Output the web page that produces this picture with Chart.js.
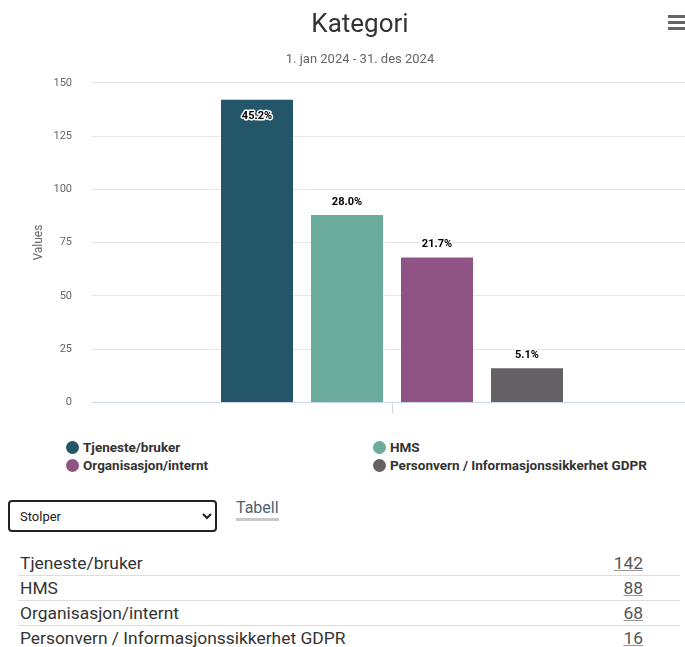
<!DOCTYPE html>
<html>
<head>
<meta charset="utf-8">
<script src="https://cdn.jsdelivr.net/npm/chart.js@4.4.1/dist/chart.umd.min.js"></script>
<style>
  html, body { margin: 0; padding: 0; background: #fff; overflow: hidden; width: 685px; height: 647px; }
  body { position: relative; font-family: 'Roboto', sans-serif; }
  #wrap { position: absolute; left: 0; top: 0; width: 692px; height: 429px; }
  #menu { position: absolute; left: 668px; top: 15px; width: 18px; }
  #menu div { height: 3px; background: #666; margin-bottom: 3px; }
  #legend { position: absolute; left: 66px; top: 438px; display: grid; grid-template-columns: 307px 307px; grid-auto-rows: 18px; }
  .item { display: flex; align-items: center; font-size: 13.5px; color: #333; font-weight: bold; }
  .dot { width: 13px; height: 13px; border-radius: 50%; margin-right: 4px; }
  #type { position: absolute; left: 8px; top: 500px; width: 209px; height: 32px; border: 2px solid #222; border-radius: 4px; font-size: 13px; font-family: 'Roboto', sans-serif; padding-left: 6px; background: #fff; color: #222; }
  #tabell { position: absolute; left: 236px; top: 498px; font-size: 16px; color: #4a6274; text-decoration: none; border-bottom: 3px solid #c8c8c8; line-height: 20px; }
  #tbl { position: absolute; left: 18px; top: 551px; width: 662px; border-collapse: collapse; font-size: 17.4px; color: #333; }
  #tbl td { height: 24px; padding: 0 0 0 2px; border-bottom: 1px solid #ddd; }
  #tbl tr:last-child td { border-bottom: none; }
  #tbl td.v { text-align: right; padding-right: 37px; }
  #tbl td.v a { color: #555; text-decoration: underline; text-decoration-color: #999; }
</style>
</head>
<body>
<div id="wrap"><canvas id="myChart"></canvas></div>
<div id="menu"><div></div><div></div><div></div></div>
<div id="legend"></div>
<select id="type"><option>Stolper</option><option>Kake</option></select>
<a id="tabell" href="#">Tabell</a>
<table id="tbl"></table>
<script>
const categories = ['Tjeneste/bruker', 'HMS', 'Organisasjon/internt', 'Personvern / Informasjonssikkerhet GDPR'];
const values = [142, 88, 68, 16];
const colors = ['#24566a', '#6aab9c', '#8f5483', '#646064'];
const yTicks = [0, 25, 50, 75, 100, 125, 150];

const total = values.reduce((a, b) => a + b, 0);
const fontFam = "'Roboto', sans-serif";

// etiketter med prosent over stolpene
const pctLabels = {
    id: 'pctLabels',
    afterDatasetsDraw(chart) {
        const ctx = chart.ctx;
        const area = chart.chartArea;
        ctx.save();
        ctx.font = 'bold 11px ' + fontFam;
        ctx.textAlign = 'center';
        ctx.textBaseline = 'middle';
        ctx.lineJoin = 'round';
        chart.data.datasets.forEach((ds, i) => {
            const el = chart.getDatasetMeta(i).data[0];
            const txt = (ds.data[0] / total * 100).toFixed(1) + '%';
            let y = el.y - 13;
            if (y - 8 < area.top) y = el.y + 16;
            ctx.lineWidth = 3;
            ctx.strokeStyle = '#fff';
            ctx.strokeText(txt, el.x, y);
            ctx.fillStyle = '#000';
            ctx.fillText(txt, el.x, y);
        });
        ctx.restore();
    }
};

const chart = new Chart(document.getElementById('myChart'), {
    type: 'bar',
    data: {
        labels: [''],
        datasets: categories.map((c, i) => ({
            label: c,
            data: [values[i]],
            backgroundColor: colors[i],
            borderWidth: 0
        }))
    },
    options: {
        responsive: true,
        maintainAspectRatio: false,
        animation: false,
        categoryPercentage: 0.6,
        barPercentage: 0.8,
        layout: { padding: { top: 8, left: 28, right: 0, bottom: 0 } },
        plugins: {
            legend: { display: false },
            tooltip: { enabled: false },
            title: {
                display: true,
                text: 'Kategori',
                color: '#333',
                font: { family: fontFam, size: 26, weight: 'normal' },
                padding: { top: 2, bottom: 11 }
            },
            subtitle: {
                display: true,
                text: '1. jan 2024 - 31. des 2024',
                color: '#666',
                font: { family: fontFam, size: 13 },
                padding: { top: 0, bottom: 15 }
            }
        },
        scales: {
            x: {
                grid: { display: true, drawOnChartArea: false, offset: false, color: '#ccd6eb', tickLength: 11 },
                border: { color: '#ccd6eb' },
                ticks: { display: false }
            },
            y: {
                min: 0,
                max: 150,
                afterBuildTicks: axis => { axis.ticks = yTicks.map(v => ({ value: v })); },
                afterFit: axis => { axis.width = 64; },
                grid: { color: '#e6e6e6', drawTicks: false },
                border: { display: false },
                ticks: { color: '#666', padding: 20, font: { family: fontFam, size: 11 } },
                title: { display: true, text: 'Values', color: '#666', font: { family: fontFam, size: 12 }, padding: { bottom: 12 } }
            }
        }
    },
    plugins: [pctLabels]
});

// legende i to kolonner
const legend = document.getElementById('legend');
chart.data.datasets.forEach(ds => {
    const item = document.createElement('div');
    item.className = 'item';
    item.innerHTML = '<span class="dot" style="background:' + ds.backgroundColor + '"></span>' + ds.label;
    legend.appendChild(item);
});

// tabell
const tbl = document.getElementById('tbl');
categories.forEach((c, i) => {
    const tr = document.createElement('tr');
    tr.innerHTML = '<td>' + c + '</td><td class="v"><a href="#">' + values[i] + '</a></td>';
    tbl.appendChild(tr);
});
</script>
</body>
</html>
